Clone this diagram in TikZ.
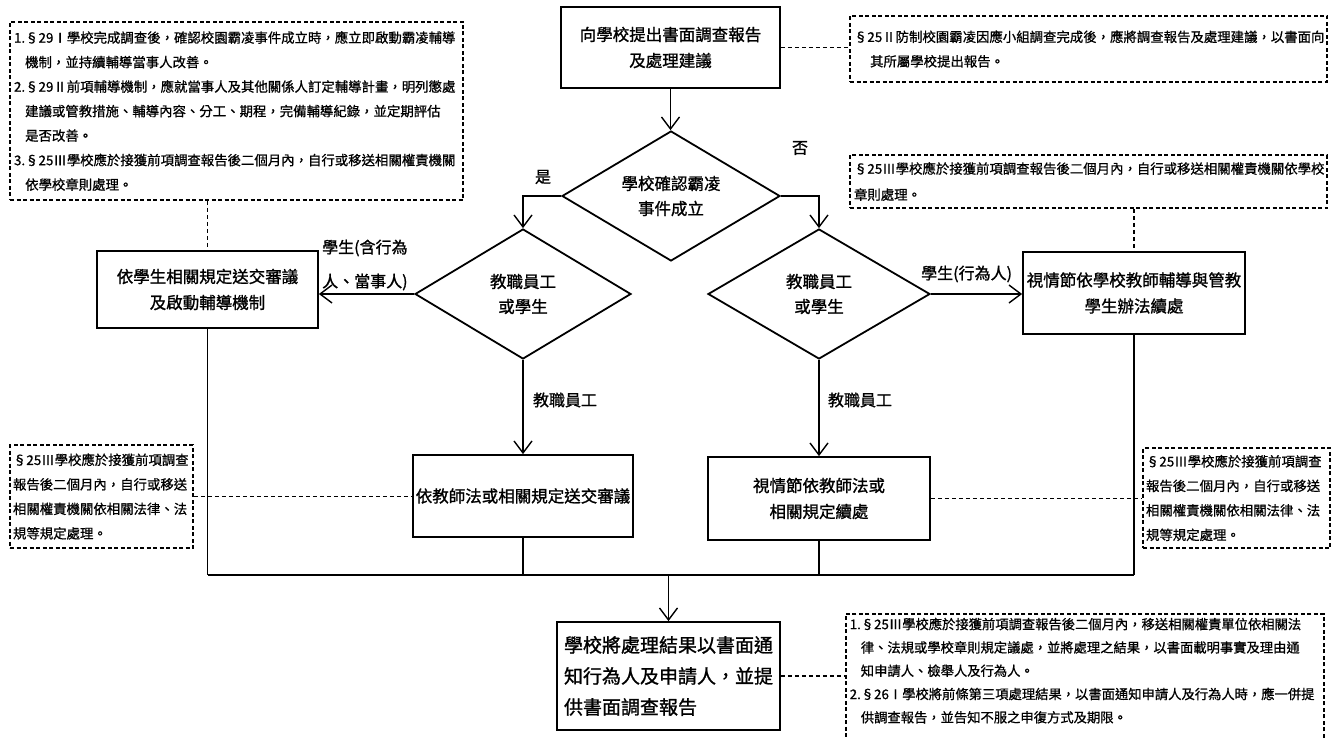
\documentclass[tikz,border=0pt]{standalone}
\usepackage{fontspec}
\setmainfont{Noto Sans CJK TC}[FakeBold=1.2]
\newfontfamily\notefont{Noto Sans CJK TC}[FakeBold=0.8]
\usetikzlibrary{shapes.geometric,arrows.meta}
\begin{document}
\begin{tikzpicture}[x=1pt,y=-1pt,
  box/.style={draw, line width=1.8pt, rectangle, inner sep=1pt, align=center, font=\fontsize{16.5}{26}\selectfont},
  dia/.style={draw, line width=1.8pt, diamond, aspect=1.68, inner sep=0pt, align=center, font=\fontsize{16.5}{25}\selectfont},
  note/.style={draw, line width=1.5pt, dash pattern=on 4pt off 2.5pt, rectangle, inner xsep=4pt, inner ysep=2pt, align=left, font=\notefont\fontsize{13.4}{24.5}\selectfont},
  arr/.style={line width=1.6pt, -{Straight Barb[length=12pt,width=18pt,line width=1.4pt]}},
  ln/.style={line width=1.6pt},
  dl/.style={line width=1.5pt, dash pattern=on 4pt off 3pt},
  lab/.style={font=\fontsize{16}{34}\selectfont, inner sep=0pt, align=left}]
\useasboundingbox (0,0) rectangle (1343,738);
\fill[white] (0,0) rectangle (1343,738);

% main boxes
\node[box, minimum width=219pt, minimum height=81pt] (top) at (670.5,47.5) {向學校提出書面調查報告\\及處理建議};
\node[dia, minimum width=218pt, minimum height=130pt] (d1) at (671,196) {學校確認霸凌\\事件成立};
\node[dia, minimum width=216pt, minimum height=130pt] (d2) at (523,294) {教職員工\\或學生};
\node[dia, minimum width=222pt, minimum height=130pt] (d3) at (819,294) {教職員工\\或學生};
\node[box, minimum width=221pt, minimum height=77pt] (lb) at (207.5,289.5) {依學生相關規定送交審議\\及啟動輔導機制};
\node[box, minimum width=222pt, minimum height=82pt] (rb) at (1134,293) {視情節依學校教師輔導與管教\\學生辦法續處};
\node[box, minimum width=220pt, minimum height=82pt] (mb1) at (523,496) {依教師法或相關規定送交審議};
\node[box, minimum width=222pt, minimum height=83pt] (mb2) at (819,498.5) {視情節依教師法或\\相關規定續處};
\node[box, minimum width=223pt, minimum height=108pt, align=left, font=\fontsize{19}{31}\selectfont] (fb) at (668.5,676) {學校將處理結果以書面通\\知行為人及申請人，並提\\供書面調查報告};

% labels
\node[lab] (yes) at (543,177) {是};
\node[lab] (no) at (800,148) {否};
\node[lab, anchor=west] (l1) at (322,265) {學生(含行為\\人、當事人)};
\node[lab, anchor=west] (l2) at (921,274) {學生(行為人)};
\node[lab] (l3) at (565,400) {教職員工};
\node[lab] (l4) at (860,400) {教職員工};

% notes
\node[note, minimum width=453pt, minimum height=178pt, text width=445pt] (n1) at (236.5,111) {1.§29Ⅰ學校完成調查後，確認校園霸凌事件成立時，應立即啟動霸凌輔導\\\hphantom{1.}機制，並持續輔導當事人改善。\\2.§29Ⅱ前項輔導機制，應就當事人及其他關係人訂定輔導計畫，明列懲處\\\hphantom{2.}建議或管教措施、輔導內容、分工、期程，完備輔導紀錄，並定期評估\\\hphantom{2.}是否改善。\\3.§25Ⅲ學校應於接獲前項調查報告後二個月內，自行或移送相關權責機關\\\hphantom{3.}依學校章則處理。};
\node[note, minimum width=477pt, minimum height=66pt, text width=469pt] (n2) at (1088.5,49) {§25Ⅱ防制校園霸凌因應小組調查完成後，應將調查報告及處理建議，以書面向\\\hspace*{1.2em}其所屬學校提出報告。};
\node[note, minimum width=477pt, minimum height=53pt, text width=469pt, font=\notefont\fontsize{13.4}{26}\selectfont] (n3) at (1088.5,181.5) {§25Ⅲ學校應於接獲前項調查報告後二個月內，自行或移送相關權責機關依學校\\章則處理。};
\node[note, minimum width=183pt, minimum height=103pt, text width=177pt, inner xsep=3pt] (n4) at (101.5,496.5) {§25Ⅲ學校應於接獲前項調查\\報告後二個月內，自行或移送\\相關權責機關依相關法律、法\\規等規定處理。};
\node[note, minimum width=187pt, minimum height=100pt, text width=181pt, inner xsep=3pt] (n5) at (1236.5,498) {§25Ⅲ學校應於接獲前項調查\\報告後二個月內，自行或移送\\相關權責機關依相關法律、法\\規等規定處理。};
\node[note, anchor=north west, inner xsep=4pt, inner ysep=0pt, font=\notefont\fontsize{13.3}{23.3}\selectfont] (n6) at (845,613) {\parbox[c][140pt][t]{470pt}{\raggedright\vspace*{4pt}1.§25Ⅲ學校應於接獲前項調查報告後二個月內，移送相關權責單位依相關法\\\hphantom{1.}律、法規或學校章則規定議處，並將處理之結果，以書面載明事實及理由通\\\hphantom{1.}知申請人、檢舉人及行為人。\\2.§26Ⅰ學校將前條第三項處理結果，以書面通知申請人及行為人時，應一併提\\\hphantom{2.}供調查報告，並告知不服之申復方式及期限。}};

% connectors
\draw[arr] (top.south) -- (top.south |- d1.north);
\draw[arr] (d1.west) -| (d2.north);
\draw[arr] (d1.east) -| (d3.north);
\draw[arr] (d2.west) -- (d2.west -| lb.east);
\draw[arr] (d3.east) -- (d3.east -| rb.west);
\draw[arr] (d2.south) -- (mb1.north);
\draw[arr] (d3.south) -- (mb2.north);
\coordinate (bus) at (0,575);
\draw[ln] (lb.south) -- (lb.south |- bus);
\draw[ln] (mb1.south) -- (mb1.south |- bus);
\draw[ln] (mb2.south) -- (mb2.south |- bus);
\draw[ln] (rb.south) -- (rb.south |- bus);
\draw[ln] (lb.south |- bus) -- (rb.south |- bus);
\draw[arr] (fb.north |- bus) -- (fb.north);

% dashed connectors
\draw[dl] (n1.south -| lb.north) -- (lb.north);
\draw[dl] (top.east) -- (top.east -| n2.west);
\draw[dl] (n3.south -| rb.north) -- (rb.north);
\draw[dl] (n4.east) -- (n4.east -| mb1.west);
\draw[dl] (mb2.east) -- (mb2.east -| n5.west);
\draw[dl] (fb.east) -- (fb.east -| n6.west);
\end{tikzpicture}
\end{document}
